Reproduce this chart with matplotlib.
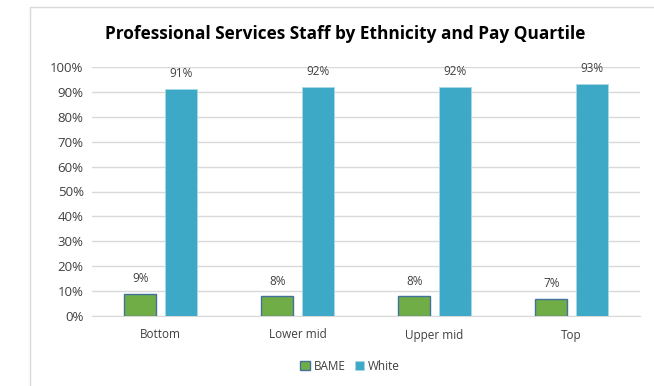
import matplotlib
matplotlib.use("Agg")
import matplotlib.pyplot as plt
from matplotlib.patches import Rectangle
import numpy as np

categories = ["Bottom", "Lower mid", "Upper mid", "Top"]
bame = [9, 8, 8, 7]
white = [91, 92, 92, 93]
yticks = [0, 10, 20, 30, 40, 50, 60, 70, 80, 90, 100]

plt.rcParams['font.family'] = ['Open Sans', 'DejaVu Sans']

W, H = 654, 386
fig = plt.figure(figsize=(W/100, H/100), dpi=100)
fig.patch.set_facecolor("white")

# chart frame
fig.patches.append(Rectangle((30/W, -0.1), 1.0, (H-7)/H + 0.1, transform=fig.transFigure,
                             fill=False, edgecolor="#D9D9D9", linewidth=1.0))

ax = fig.add_axes([92/W, (H-316)/H, 548/W, (316-67)/H])
x = np.arange(len(categories))
bw = 0.233
gap = 0.06
b1 = ax.bar(x - (bw+gap)/2, bame, width=bw, color="#70AD47", edgecolor="#41719C", linewidth=1.0, zorder=3)
b2 = ax.bar(x + (bw+gap)/2, white, width=bw, color="#3DA9C6", edgecolor="#A9D8E6", linewidth=0.6, zorder=3)

for rect, v in zip(b1, bame):
    ax.annotate(f"{v}%", (rect.get_x()+rect.get_width()/2, v), xytext=(0, 6), textcoords="offset points",
                ha="center", va="bottom", fontsize=8.5, color="#404040")
for rect, v in zip(b2, white):
    ax.annotate(f"{v}%", (rect.get_x()+rect.get_width()/2, v), xytext=(0, 6.5), textcoords="offset points",
                ha="center", va="bottom", fontsize=8.5, color="#404040")

ax.set_xlim(-0.5, len(categories)-0.5)
ax.set_ylim(0, 100)
ax.set_yticks(yticks)
ax.set_yticklabels([f"{t}%" for t in yticks], fontsize=9.5, color="#404040")
ax.set_xticks(x)
ax.set_xticklabels(categories, fontsize=8.5, color="#404040")
ax.tick_params(axis="both", length=0, pad=6)
ax.tick_params(axis="x", pad=9)
ax.grid(axis="y", color="#D9D9D9", linewidth=1.0, zorder=0)
for s in ["top", "right", "left"]:
    ax.spines[s].set_visible(False)
ax.spines["bottom"].set_color("#D9D9D9")

fig.text(345/W, 1 - 34/H, "Professional Services Staff by Ethnicity and Pay Quartile",
         ha="center", va="center", fontsize=12.4, fontweight="bold", color="#000000")

leg = fig.legend([b1, b2], ["BAME", "White"], loc="center", bbox_to_anchor=(350/W, 1 - 366/H),
                 ncol=2, frameon=False, fontsize=8.5, handlelength=0.8, handleheight=0.8,
                 handletextpad=0.3, columnspacing=0.8)
for t in leg.get_texts():
    t.set_color("#404040")

fig.savefig("out.png", dpi=100, facecolor="white")
